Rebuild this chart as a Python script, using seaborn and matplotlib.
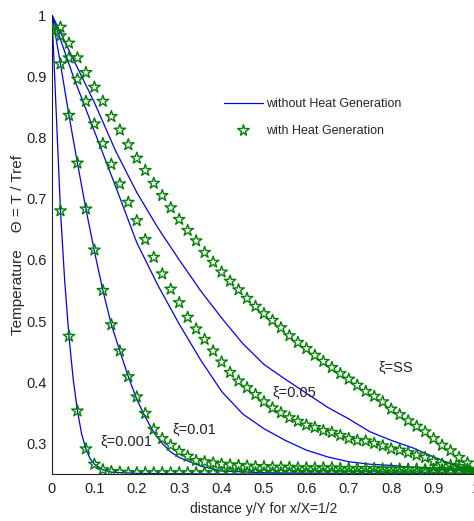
import numpy as np
import pandas as pd
import matplotlib
matplotlib.use("Agg")
import matplotlib.pyplot as plt
import seaborn as sns
from matplotlib.lines import Line2D

# ---------------- data ----------------
xi_labels = ["ξ=0.001", "ξ=0.01", "ξ=0.05", "ξ=SS"]

# "without Heat Generation" (blue lines)
line_x_001 = [0, 0.01, 0.02, 0.03, 0.04, 0.05, 0.06, 0.07, 0.08, 0.09, 0.10, 0.12, 0.14, 0.20, 0.40, 0.60, 0.80, 1.00]
line_y_001 = [1.0, 0.84, 0.68, 0.565, 0.475, 0.405, 0.353, 0.315, 0.291, 0.275, 0.266, 0.257, 0.253, 0.251, 0.250, 0.250, 0.250, 0.250]

line_x_01 = [0, 0.02, 0.04, 0.06, 0.08, 0.10, 0.12, 0.14, 0.16, 0.18, 0.20, 0.22, 0.24, 0.26, 0.28, 0.30, 0.35, 0.40, 0.50, 0.70, 1.00]
line_y_01 = [1.0, 0.92, 0.836, 0.758, 0.683, 0.614, 0.55, 0.494, 0.451, 0.409, 0.372, 0.343, 0.318, 0.300, 0.286, 0.277, 0.263, 0.255, 0.252, 0.251, 0.251]

line_x_05 = [0, 0.025, 0.05, 0.10, 0.15, 0.20, 0.25, 0.30, 0.35, 0.40, 0.45, 0.50, 0.55, 0.60, 0.65, 0.70, 0.75, 0.80, 0.85, 0.90, 0.95, 1.00]
line_y_05 = [1.0, 0.95, 0.90, 0.81, 0.72, 0.628, 0.558, 0.495, 0.437, 0.385, 0.348, 0.324, 0.305, 0.289, 0.278, 0.270, 0.266, 0.264, 0.261, 0.258, 0.256, 0.254]

line_x_ss = [0, 0.05, 0.10, 0.15, 0.20, 0.25, 0.30, 0.35, 0.40, 0.45, 0.50, 0.55, 0.60, 0.65, 0.70, 0.75, 0.80, 0.85, 0.90, 0.95, 1.00]
line_y_ss = [1.0, 0.928, 0.857, 0.778, 0.71, 0.652, 0.600, 0.550, 0.505, 0.463, 0.429, 0.405, 0.382, 0.359, 0.340, 0.319, 0.305, 0.293, 0.278, 0.264, 0.253]

# "with Heat Generation" (green stars), sampled every 0.02
star_x = [round(0.02 * i, 2) for i in range(51)]
star_y_001 = [0.976, 0.68, 0.475, 0.353, 0.291, 0.266, 0.257, 0.254, 0.253, 0.252,
              0.252, 0.252, 0.252, 0.252, 0.252, 0.252, 0.252, 0.252, 0.252, 0.252,
              0.252, 0.252, 0.252, 0.252, 0.252, 0.252, 0.252, 0.252, 0.252, 0.252,
              0.252, 0.252, 0.252, 0.252, 0.252, 0.252, 0.252, 0.252, 0.252, 0.252,
              0.252, 0.252, 0.252, 0.252, 0.252, 0.252, 0.252, 0.252, 0.252, 0.252, 0.252]
star_y_01 = [0.976, 0.92, 0.836, 0.758, 0.683, 0.616, 0.550, 0.494, 0.451, 0.409,
             0.376, 0.349, 0.323, 0.308, 0.297, 0.287, 0.279, 0.272, 0.270, 0.268,
             0.266, 0.265, 0.264, 0.263, 0.262, 0.262, 0.261, 0.261, 0.261, 0.260,
             0.260, 0.260, 0.260, 0.260, 0.259, 0.259, 0.259, 0.259, 0.259, 0.258,
             0.258, 0.258, 0.258, 0.258, 0.257, 0.257, 0.257, 0.256, 0.256, 0.255, 0.255]
star_y_05 = [0.976, 0.966, 0.930, 0.895, 0.859, 0.822, 0.790, 0.756, 0.724, 0.694,
             0.664, 0.633, 0.604, 0.577, 0.552, 0.530, 0.506, 0.487, 0.470, 0.451,
             0.433, 0.416, 0.402, 0.391, 0.380, 0.368, 0.358, 0.350, 0.342, 0.336,
             0.330, 0.326, 0.321, 0.318, 0.313, 0.308, 0.305, 0.304, 0.300, 0.296,
             0.291, 0.289, 0.285, 0.281, 0.277, 0.271, 0.266, 0.264, 0.262, 0.258, 0.255]
star_y_ss = [0.976, 0.980, 0.954, 0.930, 0.906, 0.882, 0.859, 0.834, 0.812, 0.788,
             0.766, 0.746, 0.725, 0.705, 0.685, 0.666, 0.648, 0.631, 0.612, 0.596,
             0.580, 0.565, 0.551, 0.537, 0.524, 0.512, 0.501, 0.489, 0.476, 0.465,
             0.455, 0.444, 0.434, 0.424, 0.414, 0.405, 0.395, 0.385, 0.377, 0.368,
             0.356, 0.347, 0.337, 0.328, 0.319, 0.308, 0.297, 0.288, 0.277, 0.268, 0.256]

x_ticks = [0, 0.1, 0.2, 0.3, 0.4, 0.5, 0.6, 0.7, 0.8, 0.9, 1.0]
x_tick_labels = ["0", "0.1", "0.2", "0.3", "0.4", "0.5", "0.6", "0.7", "0.8", "0.9", "1"]
y_ticks = [0.3, 0.4, 0.5, 0.6, 0.7, 0.8, 0.9, 1.0]
y_tick_labels = ["0.3", "0.4", "0.5", "0.6", "0.7", "0.8", "0.9", "1"]

# annotation positions (data coords) for the curve labels
label_pos = [(0.113, 0.303), (0.285, 0.323), (0.519, 0.383), (0.769, 0.424)]

# ---------------- build tables ----------------
lines_df = pd.concat([
    pd.DataFrame({"x": line_x_001, "y": line_y_001, "curve": xi_labels[0]}),
    pd.DataFrame({"x": line_x_01, "y": line_y_01, "curve": xi_labels[1]}),
    pd.DataFrame({"x": line_x_05, "y": line_y_05, "curve": xi_labels[2]}),
    pd.DataFrame({"x": line_x_ss, "y": line_y_ss, "curve": xi_labels[3]}),
], ignore_index=True)

stars_df = pd.concat([
    pd.DataFrame({"x": star_x, "y": sy, "curve": lab})
    for sy, lab in zip([star_y_001, star_y_01, star_y_05, star_y_ss], xi_labels)
], ignore_index=True)

# ---------------- plot ----------------
sns.set_style("white")
plt.rcParams["font.family"] = ["Liberation Sans", "DejaVu Sans"]

fig = plt.figure(figsize=(4.74, 5.21), dpi=100)
ax = fig.add_axes([0.1097, 0.0902, 0.8945, 0.881])

sns.lineplot(data=lines_df, x="x", y="y", units="curve", estimator=None,
             color="#0000ff", linewidth=0.9, sort=False, ax=ax, legend=False)
sns.scatterplot(data=stars_df, x="x", y="y", marker="*", s=75,
                facecolor="none", edgecolor="#008000", linewidth=1.0,
                ax=ax, legend=False, zorder=3)

ax.set_xlim(0, 1)
ax.set_ylim(0.25, 1.0)
ax.set_xticks(x_ticks)
ax.set_xticklabels(x_tick_labels)
ax.set_yticks(y_ticks)
ax.set_yticklabels(y_tick_labels)
ax.tick_params(direction="in", length=4, width=0.8, labelsize=10.5, colors="#222222")
ax.tick_params(axis="y", pad=4)
ax.tick_params(axis="x", pad=6)
for side in ["top", "right"]:
    ax.spines[side].set_visible(False)
for side in ["left", "bottom"]:
    ax.spines[side].set_color("#222222")
    ax.spines[side].set_linewidth(0.8)

ax.set_xlabel("distance y/Y for x/X=1/2", fontsize=10, labelpad=4)
ax.set_ylabel("Temperature    Θ = T / Tref", fontsize=11, labelpad=1)

for (lx, ly), lab in zip(label_pos, xi_labels):
    ax.text(lx, ly, lab, fontsize=10.5, va="center", ha="left", color="#222222")

handles = [
    Line2D([0], [0], color="#0000ff", linewidth=0.9, label="without Heat Generation"),
    Line2D([0], [0], color="#008000", marker="*", linestyle="none", markersize=8.5,
           markerfacecolor="none", markeredgewidth=1.0, label="with Heat Generation"),
]
ax.legend(handles=handles, loc="upper left", frameon=False, fontsize=9,
          bbox_to_anchor=(224 / 474, 1 - 98 / 521), bbox_transform=fig.transFigure,
          borderaxespad=0, borderpad=0, handlelength=3.1, handletextpad=0.3,
          labelspacing=1.2)

fig.savefig("out.png", dpi=100)
